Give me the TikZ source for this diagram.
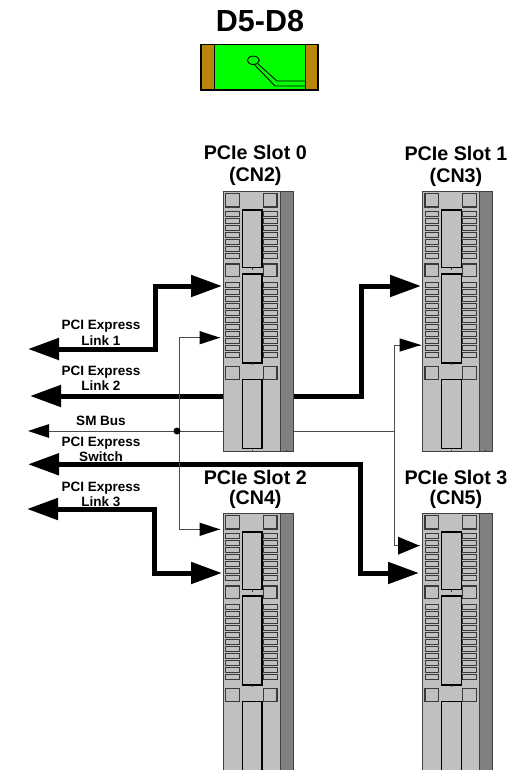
\documentclass[tikz,border=0pt]{standalone}
\usepackage{fontspec}
\setmainfont{Liberation Sans}
\usetikzlibrary{arrows.meta}
\definecolor{slotgray}{HTML}{C0C0C0}
\definecolor{slotdark}{HTML}{808080}
\definecolor{slotline}{HTML}{3A3A3A}
\definecolor{gold}{HTML}{B8860B}
\tikzset{
  x=1pt,y=-1pt,
  bus/.style={line width=5pt,line join=miter,{Triangle[length=31pt,width=21pt]}-{Triangle[length=31pt,width=21pt]}},
  signal/.style={line width=1pt,draw=black!70},
  smallhead/.style={{Triangle[length=21pt,width=13.5pt,color=black]}-},
  slotlabel/.style={font=\fontsize{19.7}{21}\selectfont\bfseries,anchor=base},
  buslabel/.style={font=\fontsize{13.5}{15}\selectfont\bfseries,anchor=base},
  titlelabel/.style={font=\fontsize{30.5}{33}\selectfont\bfseries,anchor=base},
  part/.style={draw=slotline,line width=1.3pt,fill=slotgray},
  pin/.style={draw=slotline,line width=1pt,fill=slotgray},
  core/.style={draw=black,line width=1.1pt,fill=slotgray},
  slot/.pic={
    \node[minimum width=57pt,minimum height=260.5pt,inner sep=0pt,outer sep=0pt,anchor=north west,
          draw=black!75,line width=0.9pt,fill=slotgray] (-body) at (0,0) {};
    \filldraw[draw=black!75,line width=0.9pt,fill=slotdark] (57,0) rectangle (70,260.5);
    \foreach \sx in {2.5,40.3}{
      \draw[part] (\sx,2.5) rectangle ++(13.5,13.5);
      \draw[part] (\sx,73) rectangle ++(13.5,12.7);
      \draw[part] (\sx,175.7) rectangle ++(13.5,12.7);
      \foreach \k in {0,...,6}{\draw[pin] (\sx,20.5+7*\k) rectangle ++(13.5,5);}
      \foreach \k in {0,...,10}{\draw[pin] (\sx,91.5+7*\k) rectangle ++(13.5,5);}
    }
    \draw[core] (19.2,19) rectangle (38.7,76.7);
    \draw[core] (19.2,83) rectangle (38.7,172);
    \draw[core] (19.2,188.3) rectangle (38.7,257.3);
    \draw[slotline,line width=0.7pt] (29,76.7) -- (29,78.5);
    \draw[slotline,line width=0.7pt] (29,172) -- (29,174);
    \draw[slotline,line width=0.7pt] (29,258.5) -- (29,260.5) (63,258.5) -- (63,260.5);
  }
}
\begin{document}
\begin{tikzpicture}
\clip (0,0) rectangle (512,770);
\fill[white] (0,0) rectangle (512,770);
% device
\node[titlelabel] (title) at (260,31.7) {D5-D8};
\node[draw=black,line width=1.2pt,fill=green,minimum width=117pt,minimum height=45.7pt,inner sep=0pt,outer sep=0pt,anchor=north west] (dev) at (201,44.3) {};
\filldraw[draw=black,line width=1.2pt,fill=gold] (201,44.3) rectangle (214.5,90);
\filldraw[draw=black,line width=1.2pt,fill=gold] (305.7,44.3) rectangle (318,90);
\draw[black,line width=0.9pt] (253.3,60.3) ellipse [x radius=6,y radius=4.2];
\draw[black,line width=0.9pt] (258,64) -- (277,81) -- (305.7,81);
\draw[black,line width=0.9pt] (255,65.3) -- (275,86) -- (305.7,86);
% connector ends
\coordinate (l1) at (28,349);
\coordinate (j1) at (155.5,286);
\coordinate (t0b) at (222,286);
\coordinate (l2) at (30,396);
\coordinate (j2) at (361,286);
\coordinate (t1b) at (421,286);
\coordinate (l3) at (28,464.3);
\coordinate (j3) at (360,573);
\coordinate (t3b) at (419,573);
\coordinate (l4) at (27,509);
\coordinate (j4) at (154,573);
\coordinate (t2b) at (222,573);
\coordinate (l5) at (28,431);
\coordinate (j5) at (394,431);
\coordinate (t0a) at (220,337.7);
\coordinate (t2a) at (220,529.3);
\coordinate (t1a) at (421,345);
\coordinate (t3a) at (419.5,545.7);
\coordinate (v1) at (179,431);
% thick connectors
\draw[bus] (l1) -| (j1) -- (t0b);
\draw[bus] (l2) -| (j2) -- (t1b);
\draw[bus] (l3) -| (j3) -- (t3b);
\draw[bus] (l4) -| (j4) -- (t2b);
% thin connectors
\draw[signal,smallhead] (l5) -- (j5);
\draw[signal] (v1) |- (t0a);
\draw[signal] (v1) |- (t2a);
\draw[signal] (j5) |- (t1a);
\draw[signal] (j5) |- (t3a);
\path[fill=black,draw=none] (t0a) ++(-20.5,-6.7) -- (t0a) -- ++(-20.5,6.7) -- cycle;
\path[fill=black,draw=none] (t2a) ++(-20.5,-6.7) -- (t2a) -- ++(-20.5,6.7) -- cycle;
\path[fill=black,draw=none] (t1a) ++(-21.5,-6.7) -- (t1a) -- ++(-21.5,6.7) -- cycle;
\path[fill=black,draw=none] (t3a) ++(-21.5,-9) -- (t3a) -- ++(-21.5,9) -- cycle;
\node[circle,fill=black,inner sep=0pt,minimum size=7pt] (dot) at (177,431) {};
% slots
\pic (s0) at (223.3,191) {slot};
\pic (s1) at (422.5,191) {slot};
\pic (s2) at (223.3,513) {slot};
\pic (s3) at (422.5,513) {slot};
% labels
\node[slotlabel] (n0a) at (255.3,159.5) {PCIe Slot 0};
\node[slotlabel] (n0b) at (255.3,181.5) {(CN2)};
\node[slotlabel] (n1a) at (456,160.5) {PCIe Slot 1};
\node[slotlabel] (n1b) at (456,182.5) {(CN3)};
\node[slotlabel] (n2a) at (255.3,484) {PCIe Slot 2};
\node[slotlabel] (n2b) at (255.3,504) {(CN4)};
\node[slotlabel] (n3a) at (456,484) {PCIe Slot 3};
\node[slotlabel] (n3b) at (456,504.5) {(CN5)};
\node[buslabel] (b1a) at (101,329) {PCI Express};
\node[buslabel] (b1b) at (101,345) {Link 1};
\node[buslabel] (b2a) at (101,375) {PCI Express};
\node[buslabel] (b2b) at (101,390) {Link 2};
\node[buslabel] (b3) at (101,425) {SM Bus};
\node[buslabel] (b4a) at (101,446) {PCI Express};
\node[buslabel] (b4b) at (101,461) {Switch};
\node[buslabel] (b5a) at (101,491) {PCI Express};
\node[buslabel] (b5b) at (101,506) {Link 3};
\end{tikzpicture}
\end{document}
